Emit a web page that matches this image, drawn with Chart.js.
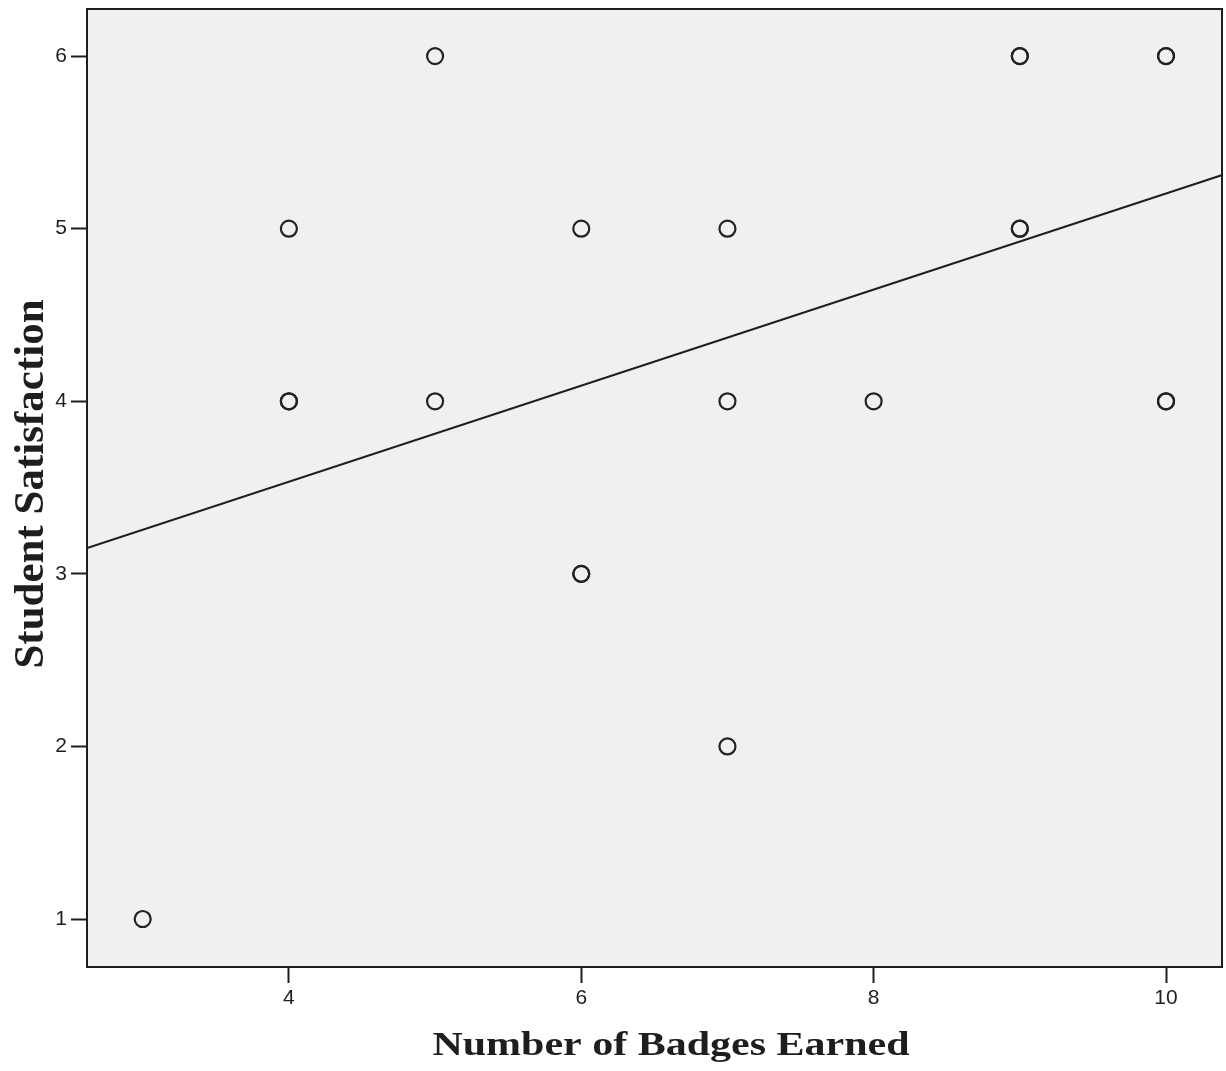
<!DOCTYPE html>
<html>
<head>
<meta charset="utf-8">
<script src="https://cdn.jsdelivr.net/npm/chart.js@4/dist/chart.umd.min.js"></script>
<style>
  html, body { margin: 0; padding: 0; background: #ffffff; }
  #wrap { width: 1226px; height: 1071px; }
</style>
</head>
<body>
<div id="wrap"><canvas id="c" width="1226" height="1071"></canvas></div>
<script>
// ---- data ----
const badges       = [3, 4, 4, 4, 5, 5, 6, 6, 6, 7, 7, 7, 8, 9, 9, 9, 9, 10, 10, 10, 10];
const satisfaction = [1, 5, 4, 4, 6, 4, 5, 3, 3, 5, 4, 2, 4, 6, 6, 5, 5, 6, 6, 4, 4];
const xTicks = [4, 6, 8, 10];
const yTicks = [1, 2, 3, 4, 5, 6];
const fitLineX = [2.62, 10.38];
const fitLineY = [3.15, 5.31];
const xTitle = 'Number of Badges Earned';
const yTitle = 'Student Satisfaction';

const points = badges.map((b, i) => ({ x: b, y: satisfaction[i] }));
const fitPoints = fitLineX.map((x, i) => ({ x: x, y: fitLineY[i] }));

const frame = {
  id: 'frame',
  beforeDraw(chart) {
    const { ctx, chartArea: a } = chart;
    ctx.save();
    ctx.fillStyle = '#ffffff';
    ctx.fillRect(0, 0, chart.width, chart.height);
    ctx.fillStyle = '#f0f0f0';
    ctx.fillRect(a.left, a.top, a.right - a.left, a.bottom - a.top);
    ctx.restore();
  },
  afterDraw(chart) {
    const { ctx, chartArea: a } = chart;
    ctx.save();
    ctx.strokeStyle = '#1e1e1e';
    ctx.lineWidth = 2;
    ctx.strokeRect(a.left, a.top, a.right - a.left, a.bottom - a.top);
    // axis titles
    ctx.fillStyle = '#1e1e1e';
    ctx.textAlign = 'center';
    ctx.textBaseline = 'alphabetic';
    ctx.font = 'bold 42px "Liberation Serif", "Times New Roman", serif';
    ctx.save();
    ctx.translate(671, 1055);
    ctx.scale(1, 0.8);
    ctx.fillText(xTitle, 0, 0);
    ctx.restore();
    ctx.save();
    ctx.font = 'bold 43px "Liberation Serif", "Times New Roman", serif';
    ctx.translate(43, 484);
    ctx.rotate(-Math.PI / 2);
    ctx.fillText(yTitle, 0, 0);
    ctx.restore();
    ctx.restore();
  }
};

const tickFont = { family: '"Liberation Sans", Arial, sans-serif', size: 21 };

new Chart(document.getElementById('c'), {
  type: 'scatter',
  data: {
    datasets: [
      {
        type: 'scatter',
        data: points,
        pointRadius: 8,
        pointHoverRadius: 8,
        pointBorderWidth: 2.2,
        borderColor: '#222222',
        backgroundColor: 'rgba(0,0,0,0)',
        pointStyle: 'circle'
      },
      {
        type: 'line',
        data: fitPoints,
        borderColor: '#1e1e1e',
        borderWidth: 2,
        pointRadius: 0,
        fill: false,
        tension: 0
      }
    ]
  },
  options: {
    responsive: false,
    animation: false,
    events: [],
    layout: { autoPadding: false, padding: { top: 9, right: 4, left: 0, bottom: 0 } },
    plugins: { legend: { display: false }, tooltip: { enabled: false }, title: { display: false } },
    scales: {
      x: {
        type: 'linear',
        min: 2.619,
        max: 10.383,
        afterBuildTicks(s) { s.ticks = xTicks.map(v => ({ value: v })); },
        afterFit(s) { s.height = 104; s.paddingLeft = 0; s.paddingRight = 0; },
        border: { display: false },
        grid: { drawOnChartArea: false, drawTicks: true, tickLength: 16, tickWidth: 2, tickColor: '#1e1e1e' },
        ticks: { font: tickFont, color: '#1e1e1e', padding: 3, maxRotation: 0 },
        title: { display: false }
      },
      y: {
        type: 'linear',
        min: 0.722,
        max: 6.273,
        afterBuildTicks(s) { s.ticks = yTicks.map(v => ({ value: v })); },
        afterFit(s) { s.width = 87; s.paddingTop = 0; s.paddingBottom = 0; },
        border: { display: false },
        grid: { drawOnChartArea: false, drawTicks: true, tickLength: 16, tickWidth: 2, tickColor: '#1e1e1e' },
        ticks: { font: tickFont, color: '#1e1e1e', padding: 4 },
        title: { display: false }
      }
    }
  },
  plugins: [frame]
});
</script>
</body>
</html>
